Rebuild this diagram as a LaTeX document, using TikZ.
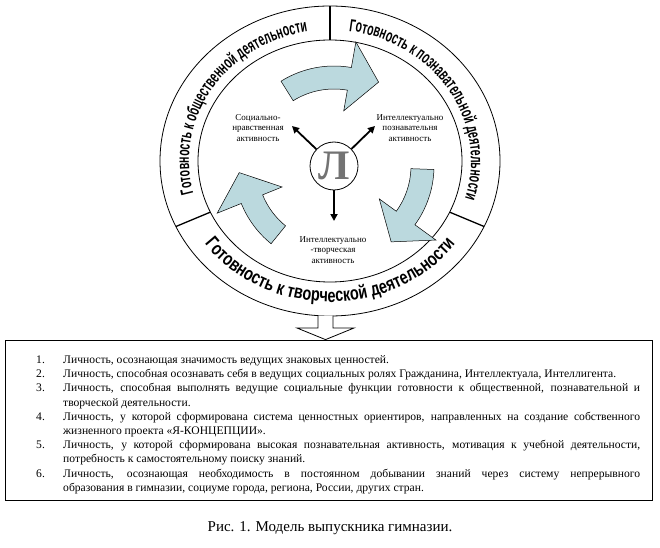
\documentclass[tikz,border=0pt]{standalone}
\usepackage{fontspec}
\setmainfont{Liberation Serif}
\setsansfont{Liberation Sans}
\newfontfamily\bodyfont{Liberation Serif}
\newfontfamily\arcfontA{Liberation Sans}[FakeStretch=0.6]
\newfontfamily\arcfontB{Liberation Sans}[FakeStretch=0.76]
\usetikzlibrary{arrows.meta,decorations.text,calc}
\definecolor{arrowblue}{RGB}{187,217,222}
\tikzset{
  ring/.style={line width=0.8pt},
  divider/.style={line width=1.3pt},
  smallarrow/.style={line width=1.8pt,-{Triangle[length=7pt,width=7pt]}},
  actlabel/.style={font=\bodyfont\fontsize{9}{10.5}\selectfont, align=center, inner sep=0pt},
  bluearrow/.style={fill=arrowblue,draw=black,line width=0.5pt},
  framebox/.style={draw,line width=0.8pt,minimum width=647pt,minimum height=160pt,inner sep=0pt},
}
\newcommand\blockarrow[3]{%
  \filldraw[bluearrow]
    ($(C)+(#1:100)$) arc[start angle=#1,end angle=#2,radius=100pt]
    -- ($(C)+(#2:126)$) -- ($(C)+(#3:95)$) -- ($(C)+(#2:56)$) -- ($(C)+(#2:77)$)
    arc[start angle=#2,end angle=#1,radius=77pt] -- cycle;}
\newcommand\listitem[2]{\par\noindent\hangindent=27pt\hangafter=1\makebox[27pt][l]{#1}#2\par}
\begin{document}
\begin{tikzpicture}[x=1pt,y=1pt]
\useasboundingbox (0,0) rectangle (660,547);
\coordinate (O) at (330,386);
\coordinate (C) at (334,381);
% rings
\draw[ring] (O) ellipse [x radius=170pt, y radius=155pt];
\draw[ring] (O) ellipse [x radius=132pt, y radius=121pt];
% dividers
\coordinate (d1i) at ($(O)+(90:132 and 121)$);
\coordinate (d1o) at ($(O)+(90:170 and 155)$);
\coordinate (d2i) at ($(O)+(205:132 and 121)$);
\coordinate (d2o) at ($(O)+(205:170 and 155)$);
\coordinate (d3i) at ($(O)+(335:132 and 121)$);
\coordinate (d3o) at ($(O)+(335:170 and 155)$);
\draw[divider] (d1i) -- (d1o);
\draw[divider] (d2i) -- (d2o);
\draw[divider] (d3i) -- (d3o);
% curved texts
\path[decorate,decoration={text along path,text align=center,
  text={|\arcfontA\bfseries\fontsize{17.5}{17.5}\selectfont|Готовность к общественной деятельности}}]
  ($(O)+(204:141 and 131)$) arc[start angle=204,end angle=90,x radius=141pt,y radius=131pt];
\path[decorate,decoration={text along path,text align=center,
  text={|\arcfontA\bfseries\fontsize{17.5}{17.5}\selectfont|Готовность к познавательной деятельности}}]
  ($(O)+(90:141 and 131)$) arc[start angle=90,end angle=-25,x radius=141pt,y radius=131pt];
\path[decorate,decoration={text along path,text align=center,
  text={|\arcfontB\bfseries\fontsize{19}{19}\selectfont|Готовность к творческой деятельности}}]
  ($(O)+(206:155 and 141)$) arc[start angle=206,end angle=334,x radius=155pt,y radius=141pt];
% blue curved arrows
\blockarrow{122}{80}{62}
\blockarrow{-2}{-36}{-53}
\blockarrow{-129}{-158}{-176}
% centre
\node[circle,draw,line width=0.8pt,minimum size=48pt,inner sep=0pt,
  text={rgb,255:red,115;green,115;blue,115},font=\bodyfont\bfseries\fontsize{42}{42}\selectfont] (L) at (C) {Л};
\node[actlabel] (soc) at (258,419) {Социально-\\нравственная\\активность};
\node[actlabel] (cog) at (410,419) {Интеллектуально\\познавательня\\активность};
\node[actlabel] (cre) at (333,297) {Интеллектуально\\-творческая\\активность};
\coordinate (t1) at (292,421);
\coordinate (t2) at (375,421);
\coordinate (t3) at (334,326);
\draw[smallarrow] (L) -- (t1);
\draw[smallarrow] (L) -- (t2);
\draw[smallarrow] (L) -- (t3);
% box
\node[framebox] (box) at (328.5,127) {};
\coordinate (tip) at ($(box.north)+(-3,0)$);
\draw[line width=0.8pt,fill=white] (318,231.5) -- (318,219) -- (297,219) -- (tip) -- (354,219) -- (333,219) -- (333,231.5);
\node[anchor=north west,text width=604pt,inner sep=0pt,align=justify,
  font=\bodyfont\fontsize{11.6}{14.2}\selectfont] (list) at (36,198) {\hyphenpenalty=10000
\listitem{1.}{Личность, осознающая значимость ведущих знаковых ценностей.}
\listitem{2.}{Личность, способная осознавать себя в ведущих социальных ролях Гражданина, Интеллектуала, Интеллигента.}
\listitem{3.}{Личность, способная выполнять ведущие социальные функции готовности к общественной, познавательной и\linebreak творческой деятельности.}
\listitem{4.}{Личность, у которой сформирована система ценностных ориентиров, направленных на создание собственного\linebreak жизненного проекта «Я-КОНЦЕПЦИИ».}
\listitem{5.}{Личность, у которой сформирована высокая познавательная активность, мотивация к учебной деятельности,\linebreak потребность к самостоятельному поиску знаний.}
\listitem{6.}{Личность, осознающая необходимость в постоянном добывании знаний через систему непрерывного\linebreak образования в гимназии, социуме города, региона, России, других стран.}};
\node[font=\bodyfont\fontsize{15}{17}\selectfont,anchor=base] (cap) at (330,16) {Рис. 1. Модель выпускника гимназии.};
\end{tikzpicture}
\end{document}
